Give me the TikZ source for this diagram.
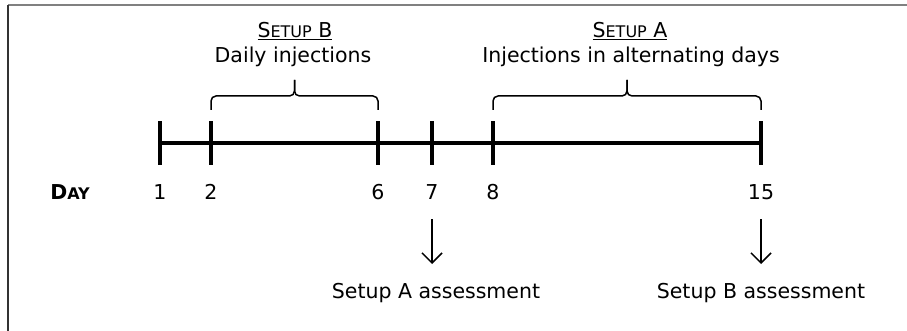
\documentclass[tikz,border=0pt]{standalone}
\usepackage{fontspec}
\setmainfont{DejaVu Sans}
\usetikzlibrary{arrows.meta,calc}

% small caps built from a full-size capital and reduced capitals
\newcommand\bigsz{\fontsize{20.5pt}{24pt}\selectfont}
\newcommand\smallsz{\fontsize{16pt}{19pt}\selectfont}
\newcommand\scword[2]{#1{\smallsz #2}}

\tikzset{
  axisline/.style={line width=4pt},
  tickmark/.style={line width=4pt},
  bracepath/.style={line width=1.5pt, rounded corners=5pt},
  pointer/.style={line width=1.5pt, -{Straight Barb[length=10pt, width=20pt, line width=1.5pt]}},
  txt/.style={inner sep=0pt, anchor=base, font=\bigsz},
}

\begin{document}
\begin{tikzpicture}[x=1pt, y=-1pt]
  \useasboundingbox (0,0) rectangle (907,331);

  % partial frame
  \draw[line width=2pt, black!50] (8,5) -- (907,5);
  \draw[line width=1.5pt, black!80] (8,5) -- (8,331);

  % day positions on the axis
  \coordinate (d1)  at (160,143);
  \coordinate (d2)  at (211,143);
  \coordinate (d6)  at (378,143);
  \coordinate (d7)  at (432,143);
  \coordinate (d8)  at (493,143);
  \coordinate (d15) at (761,143);

  % axis and ticks
  \draw[axisline] (d1) -- (d15);
  \foreach \d in {d1,d2,d6,d7,d8,d15}
    \draw[tickmark] ([yshift=-22pt]\d) -- ([yshift=22pt]\d);

  % braces over the injection periods
  \coordinate (mb) at ($([yshift=47pt]d2)!0.5!([yshift=47pt]d6)$);
  \coordinate (ma) at ($([yshift=47pt]d8)!0.5!([yshift=47pt]d15)$);
  \draw[bracepath] ([yshift=33pt]d2) -- ([yshift=47pt]d2) -- (mb) -- ++(0,-16);
  \draw[bracepath] ([yshift=16pt]mb) -- (mb) -- ([yshift=47pt]d6) -- ([yshift=33pt]d6);
  \draw[bracepath] ([yshift=33pt]d8) -- ([yshift=47pt]d8) -- (ma) -- ++(0,-16);
  \draw[bracepath] ([yshift=16pt]ma) -- (ma) -- ([yshift=47pt]d15) -- ([yshift=33pt]d15);

  % period labels
  \node[txt] (sb)  at (295,38) {\underline{\scword{S}{ETUP} B}};
  \node[txt] (sbt) at (293,63) {Daily injections};
  \node[txt] (sa)  at (630,38) {\underline{\scword{S}{ETUP} A}};
  \node[txt] (sat) at (631,63) {Injections in alternating days};

  % day labels
  \node[txt] (day) at (70,200) {\bfseries\scword{D}{AY}};
  \node[txt] (n1)  at (160,200) {1};
  \node[txt] (n2)  at (211,200) {2};
  \node[txt] (n6)  at (378,200) {6};
  \node[txt] (n7)  at (432,200) {7};
  \node[txt] (n8)  at (493,200) {8};
  \node[txt] (n15) at (761,200) {15};

  % assessments
  \node[txt] (aa) at (436,298) {Setup A assessment};
  \node[txt] (ab) at (761,298) {Setup B assessment};
  \coordinate (a7)  at (432,219);
  \coordinate (a15) at (761,219);
  \draw[pointer] (a7) -- (a7 |- 0,264);
  \draw[pointer] (a15) -- (a15 |- 0,264);
\end{tikzpicture}
\end{document}
